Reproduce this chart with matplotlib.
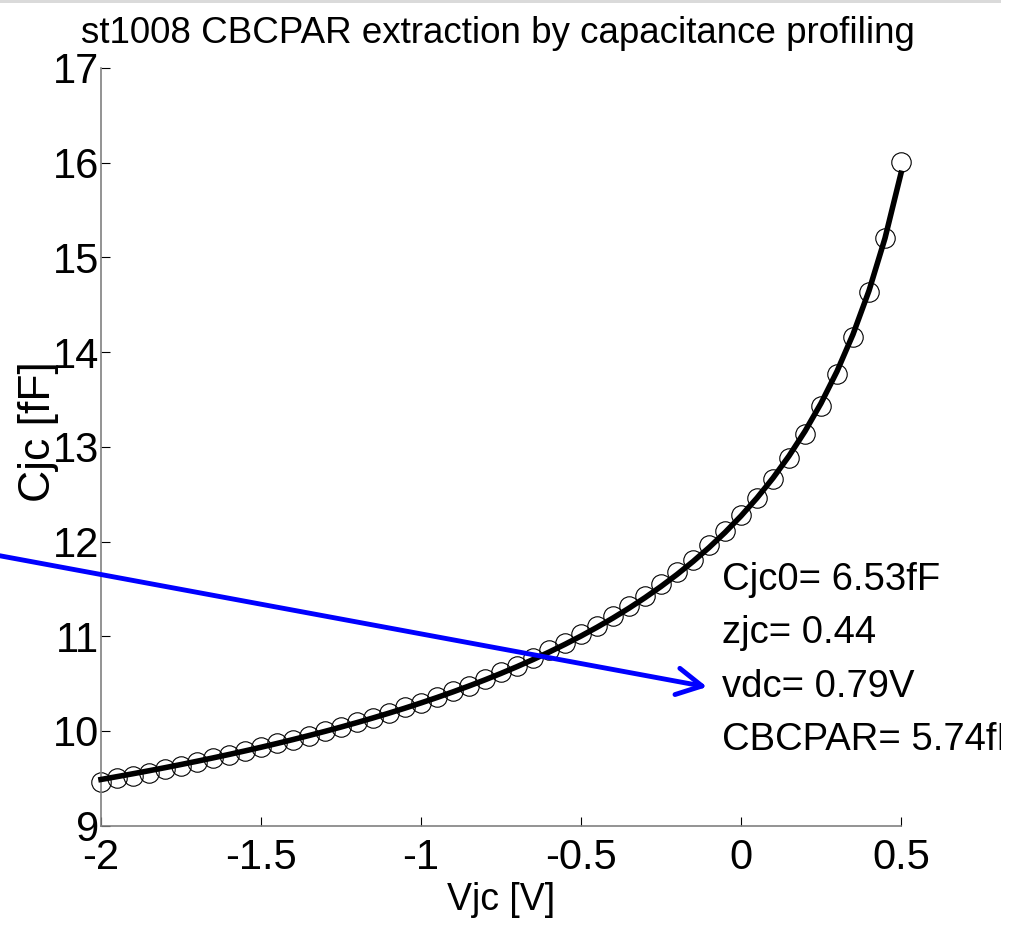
import numpy as np
import matplotlib
matplotlib.use('Agg')
import matplotlib.pyplot as plt
from matplotlib.patches import Rectangle
from matplotlib.transforms import Bbox, TransformedBbox

plt.rcParams['font.family'] = ['Liberation Sans', 'DejaVu Sans']
plt.rcParams['font.size'] = 30

# measured junction voltage / capacitance
vjc = [-2.00, -1.95, -1.90, -1.85, -1.80, -1.75, -1.70, -1.65, -1.60, -1.55,
       -1.50, -1.45, -1.40, -1.35, -1.30, -1.25, -1.20, -1.15, -1.10, -1.05,
       -1.00, -0.95, -0.90, -0.85, -0.80, -0.75, -0.70, -0.65, -0.60, -0.55,
       -0.50, -0.45, -0.40, -0.35, -0.30, -0.25, -0.20, -0.15, -0.10, -0.05,
       0.00, 0.05, 0.10, 0.15, 0.20, 0.25, 0.30, 0.35, 0.40, 0.45, 0.50]
cjc = [9.46, 9.50, 9.53, 9.56, 9.60, 9.63, 9.67, 9.71, 9.75, 9.79,
       9.83, 9.87, 9.91, 9.95, 10.00, 10.04, 10.09, 10.14, 10.19, 10.25,
       10.30, 10.36, 10.42, 10.48, 10.55, 10.62, 10.69, 10.77, 10.85, 10.93,
       11.02, 11.11, 11.21, 11.32, 11.43, 11.55, 11.68, 11.81, 11.96, 12.11,
       12.28, 12.46, 12.66, 12.88, 13.14, 13.43, 13.77, 14.16, 14.63, 15.21,
       16.01]

# extracted parameters
cjc0 = 6.53
zjc = 0.44
vdc = 0.79
cbcpar = 5.74

xticks = [-2, -1.5, -1, -0.5, 0, 0.5]
xticklabels = ['-2', '-1.5', '-1', '-0.5', '0', '0.5']
yticks = [9, 10, 11, 12, 13, 14, 15, 16, 17]

v = np.array(vjc)
cfit = cbcpar + cjc0 / (1 - v / vdc) ** zjc

W, H = 1020, 925
fig = plt.figure(figsize=(W / 100, H / 100), dpi=100)
fig.patches.append(Rectangle((0, 1 - 3 / H), 1001 / W, 3 / H, transform=fig.transFigure,
                             facecolor='#dadada', edgecolor='none'))

ax = fig.add_axes([101 / W, (H - 825.7) / H, 800 / W, (825.7 - 68) / H])
ax.plot(vjc, cjc, 'o', mfc='none', mec='black', ms=14, mew=0.8, zorder=2, clip_on=False)
ax.plot(vjc, cfit, '-', color='black', lw=4, zorder=3, clip_on=False)

ax.set_xlim(-2, 0.5)
ax.set_ylim(9, 17)
ax.set_xticks(xticks)
ax.set_xticklabels(xticklabels)
ax.set_yticks(yticks)
for s in ['top', 'right']:
    ax.spines[s].set_visible(False)
for s in ['left', 'bottom']:
    ax.spines[s].set_color('#808080')
    ax.spines[s].set_linewidth(1.2)
ax.tick_params(direction='in', length=6.5, width=0.8, color='black')
ax.tick_params(axis='x', pad=9)
ax.tick_params(axis='y', pad=1.5)

ax.set_xlabel('Vjc [V]', fontsize=27)
ax.xaxis.set_label_coords(0.5, -0.074)
ax.set_ylabel('Cjc [fF]', fontsize=32)
ax.yaxis.set_label_coords(-0.053, 0.52)

fig.text(498 / W, (H - 43) / H, 'st1008 CBCPAR extraction by capacitance profiling',
         ha='center', va='baseline', fontsize=26.5)

# fitted parameters next to the curve
clip = TransformedBbox(Bbox([[0, 0], [1001 / W, 1]]), fig.transFigure)
labels = ['Cjc0= %.2ffF' % cjc0, 'zjc= %.2f' % zjc, 'vdc= %.2fV' % vdc,
          'CBCPAR= %.2ffF' % cbcpar]
ypos = [11.59, 11.03, 10.46, 9.91]
for lab, yy in zip(labels, ypos):
    t = ax.text(-0.06, yy, lab, ha='left', va='center', fontsize=27.5, clip_on=True)
    t.set_clip_box(clip)

ax.annotate('', xy=(-0.106, 10.465), xytext=(-2.316, 11.85),
            arrowprops=dict(arrowstyle='->,head_length=0.6,head_width=0.32',
                            color='blue', lw=3.5, shrinkA=0, shrinkB=0),
            annotation_clip=False)

fig.savefig('out.png', dpi=100, facecolor='white')
